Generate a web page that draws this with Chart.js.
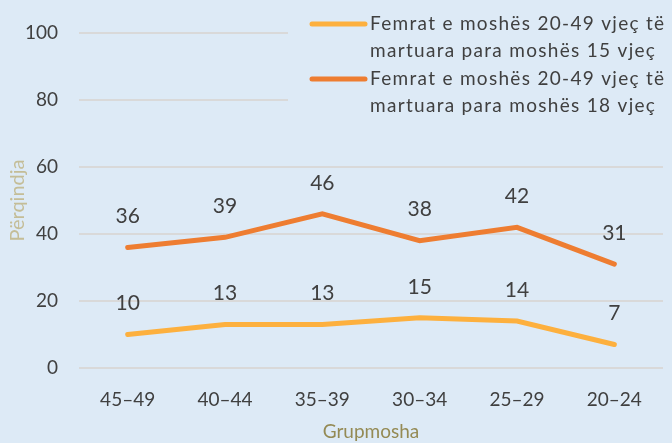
<!DOCTYPE html>
<html>
<head>
<meta charset="utf-8">
<script src="https://cdn.jsdelivr.net/npm/chart.js@4.4.1/dist/chart.umd.min.js"></script>
<style>
  html, body { margin: 0; padding: 0; background: #ddeaf6; }
  #wrap { width: 672px; height: 443px; position: relative; }
</style>
</head>
<body>
<div id="wrap"><canvas id="lineChart"></canvas></div>
<script>
// chart data
const ageGroups = ['45\u201349', '40\u201344', '35\u201339', '30\u201334', '25\u201329', '20\u201324'];
const married15 = [10, 13, 13, 15, 14, 7];
const married18 = [36, 39, 46, 38, 42, 31];
const legend15 = ['Femrat e moshës 20-49 vjeç të', 'martuara para moshës 15 vjeç'];
const legend18 = ['Femrat e moshës 20-49 vjeç të', 'martuara para moshës 18 vjeç'];
const yTicks = [0, 20, 40, 60, 80, 100];

const bgColor = '#ddeaf6';
const textColor = '#404040';
const fontName = 'Lato, "Open Sans", sans-serif';

// background fill
const bgPlugin = {
    id: 'bgFill',
    beforeDraw(chart) {
        const ctx = chart.ctx;
        ctx.save();
        ctx.fillStyle = bgColor;
        ctx.fillRect(0, 0, chart.width, chart.height);
        ctx.restore();
    }
};

// values above each point
const labelPlugin = {
    id: 'pointLabels',
    afterDatasetsDraw(chart) {
        const ctx = chart.ctx;
        ctx.save();
        ctx.font = '21px ' + fontName;
        ctx.fillStyle = textColor;
        ctx.textAlign = 'center';
        ctx.textBaseline = 'middle';
        chart.data.datasets.forEach((ds, i) => {
            chart.getDatasetMeta(i).data.forEach((pt, j) => {
                ctx.fillText(ds.data[j], pt.x, pt.y - 31);
            });
        });
        ctx.restore();
    }
};

// legend with two-line labels, top right
const legendPlugin = {
    id: 'twoLineLegend',
    afterDraw(chart) {
        const ctx = chart.ctx;
        ctx.save();
        ctx.fillStyle = bgColor;
        ctx.fillRect(288, 0, chart.width - 288, 118);
        ctx.font = '19px ' + fontName;
        ctx.textBaseline = 'middle';
        ctx.textAlign = 'left';
        ctx.letterSpacing = '1.3px';
        chart.data.datasets.forEach((ds, i) => {
            const y = 24 + i * 55;
            ctx.strokeStyle = ds.borderColor;
            ctx.lineWidth = 5;
            ctx.lineCap = 'round';
            ctx.beginPath();
            ctx.moveTo(312, y);
            ctx.lineTo(365, y);
            ctx.stroke();
            ctx.fillStyle = textColor;
            ds.legendText.forEach((t, k) => {
                ctx.fillText(t, 370, y + k * 27);
            });
        });
        ctx.restore();
    }
};

const ctx = document.getElementById('lineChart').getContext('2d');
const lineChart = new Chart(ctx, {
    type: 'line',
    data: {
        labels: ageGroups,
        datasets: [{
            label: legend15.join(' '),
            legendText: legend15,
            data: married15,
            borderColor: '#fdb03e',
            borderWidth: 5,
            pointRadius: 0,
            tension: 0,
            borderCapStyle: 'round',
            fill: false
        }, {
            label: legend18.join(' '),
            legendText: legend18,
            data: married18,
            borderColor: '#ee7d31',
            borderWidth: 5,
            pointRadius: 0,
            tension: 0,
            borderCapStyle: 'round',
            fill: false
        }]
    },
    options: {
        responsive: true,
        maintainAspectRatio: false,
        animation: false,
        layout: { padding: { top: 33, right: 9, left: 0, bottom: 0 } },
        plugins: {
            legend: { display: false },
            tooltip: { enabled: false }
        },
        scales: {
            x: {
                offset: true,
                grid: { display: false, drawTicks: false },
                border: { display: false },
                ticks: { color: textColor, font: { family: fontName, size: 19 }, padding: 20, maxRotation: 0 },
                title: { display: true, text: 'Grupmosha', color: '#948a54', font: { family: fontName, size: 19 }, padding: { top: 4, bottom: 0 } },
                afterFit(scale) { scale.height = 75; }
            },
            y: {
                min: 0,
                max: 100,
                afterBuildTicks(scale) { scale.ticks = yTicks.map(v => ({ value: v })); },
                grid: { color: '#d9d9d9', lineWidth: 2, drawTicks: false },
                border: { display: false },
                ticks: { color: textColor, font: { family: fontName, size: 19 }, padding: 21 },
                title: { display: true, text: 'Përqindja', color: '#c4bd97', font: { family: fontName, size: 20 }, padding: { top: 6, bottom: 0 } },
                afterFit(scale) { scale.width = 79; }
            }
        }
    },
    plugins: [bgPlugin, labelPlugin, legendPlugin]
});
</script>
</body>
</html>
